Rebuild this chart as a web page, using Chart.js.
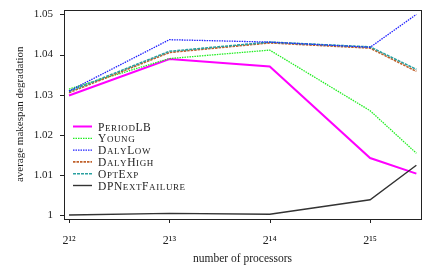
<!DOCTYPE html>
<html>
<head>
<meta charset="utf-8">
<script src="https://cdn.jsdelivr.net/npm/chart.js@4"></script>
<style>
  html, body { margin: 0; padding: 0; background: #fff; }
  #wrap { width: 429px; height: 271px; }
</style>
</head>
<body>
<div id="wrap"><canvas id="myChart" width="429" height="271"></canvas></div>
<script>
// number of processors (last point is not a power of two)
const procs = [4096, 8192, 16384, 32768, 45100];
const xTicks = [4096, 8192, 16384, 32768];
const xTickLabels = ['2¹²', '2¹³', '2¹⁴', '2¹⁵'];
const yTicks = [1, 1.01, 1.02, 1.03, 1.04, 1.05];

const periodLB = [1.0298, 1.0389, 1.0370, 1.0142, 1.0103];
const young = [1.0314, 1.0390, 1.0411, 1.0260, 1.0154];
const dalyLow = [1.0309, 1.0437, 1.0431, 1.0418, 1.0500];
const dalyHigh = [1.0305, 1.0405, 1.0429, 1.0416, 1.0358];
const optExp = [1.0308, 1.0408, 1.0431, 1.0419, 1.0363];
const dpNextFailure = [1.0000, 1.0004, 1.0002, 1.0038, 1.0124];

const serif = '"Liberation Serif", "DejaVu Serif", serif';

function pts(vals) {
  return vals.map((v, i) => ({ x: procs[i], y: v }));
}

const series = [
  { label: 'PeriodLB', data: periodLB, color: '#ff00ff', width: 2, dash: [] },
  { label: 'Young', data: young, color: '#22ee22', width: 1.3, dash: [1.5, 1] },
  { label: 'DalyLow', data: dalyLow, color: '#2020ff', width: 1.3, dash: [1.5, 1] },
  { label: 'DalyHigh', data: dalyHigh, color: '#c0602a', width: 1.6, dash: [2.5, 1] },
  { label: 'OptExp', data: optExp, color: '#2aa0a0', width: 1.6, dash: [3, 1] },
  { label: 'DPNextFailure', data: dpNextFailure, color: '#333333', width: 1.4, dash: [] }
];

// draws a string in small caps: lowercase letters become smaller capitals
function smallCaps(ctx, text, x, y, big, small, gap) {
  let cx = x;
  for (const ch of text) {
    const lower = ch !== ch.toUpperCase();
    ctx.font = (lower ? small : big) + 'px ' + serif;
    const c = ch.toUpperCase();
    ctx.fillText(c, cx, y);
    cx += ctx.measureText(c).width + gap;
  }
}

const boxAndLegend = {
  id: 'boxAndLegend',
  afterDraw(chart) {
    const ctx = chart.ctx;
    const a = chart.chartArea;
    ctx.save();
    ctx.strokeStyle = '#222';
    ctx.lineWidth = 1;
    ctx.setLineDash([]);
    ctx.strokeRect(Math.round(a.left) + 0.5, Math.round(a.top) + 0.5,
      Math.round(a.right - a.left), Math.round(a.bottom - a.top));

    // legend inside the plot
    const lx = 73, ly = 126.5, step = 11.8;
    ctx.textBaseline = 'alphabetic';
    series.forEach((s, i) => {
      const y = ly + i * step;
      ctx.beginPath();
      ctx.strokeStyle = s.color;
      ctx.lineWidth = s.width;
      ctx.setLineDash(s.dash);
      ctx.moveTo(lx, y);
      ctx.lineTo(lx + 19, y);
      ctx.stroke();
      ctx.fillStyle = '#222';
      smallCaps(ctx, s.label, lx + 25, y + 4, 11.5, 9, 0.6);
    });
    ctx.restore();
  }
};

const ctx = document.getElementById('myChart').getContext('2d');
const chart = new Chart(ctx, {
  type: 'line',
  data: {
    datasets: series.map((s, i) => ({
      label: s.label,
      data: pts(s.data),
      borderColor: s.color,
      borderWidth: s.width,
      borderDash: s.dash,
      pointRadius: 0,
      fill: false,
      tension: 0,
      order: [5, 4, 1, 3, 2, 0][i]
    }))
  },
  options: {
    responsive: false,
    animation: false,
    layout: { padding: { top: 5, right: 8, left: 0, bottom: 0 } },
    plugins: {
      legend: { display: false },
      tooltip: { enabled: false }
    },
    scales: {
      x: {
        type: 'logarithmic',
        min: Math.pow(2, 11.95),
        max: Math.pow(2, 15.507),
        afterBuildTicks: scale => { scale.ticks = xTicks.map(v => ({ value: v })); },
        afterFit: scale => { scale.height = 52; },
        grid: { display: false, drawOnChartArea: false },
        border: { display: false },
        ticks: {
          autoSkip: false,
          maxRotation: 0,
          color: '#222',
          font: { family: serif, size: 12 },
          padding: 7,
          callback: (v) => {
            const i = xTicks.indexOf(v);
            return i >= 0 ? xTickLabels[i] : '';
          }
        },
        title: {
          display: true,
          text: 'number of processors',
          color: '#222',
          font: { family: serif, size: 11.5 },
          padding: { top: 0, bottom: 5 }
        }
      },
      y: {
        type: 'linear',
        min: 0.999,
        max: 1.0512,
        afterBuildTicks: scale => { scale.ticks = yTicks.map(v => ({ value: v })); },
        afterFit: scale => { scale.width = 64; },
        grid: { display: false },
        border: { display: false },
        ticks: {
          color: '#222',
          font: { family: serif, size: 11 },
          padding: 3,
          callback: v => String(+v.toFixed(2))
        },
        title: {
          display: true,
          text: 'average makespan degradation',
          color: '#222',
          font: { family: serif, size: 11 },
          padding: { top: 14, bottom: 0 }
        }
      }
    }
  },
  plugins: [boxAndLegend, {
    id: 'outTicks',
    afterDraw(chart) {
      const c = chart.ctx;
      const a = chart.chartArea;
      const xs = chart.scales.x, ys = chart.scales.y;
      c.save();
      c.strokeStyle = '#222';
      c.lineWidth = 1;
      xTicks.forEach(v => {
        const px = Math.round(xs.getPixelForValue(v)) + 0.5;
        c.beginPath();
        c.moveTo(px, a.bottom);
        c.lineTo(px, a.bottom + 4);
        c.stroke();
      });
      yTicks.forEach(v => {
        const py = Math.round(ys.getPixelForValue(v)) + 0.5;
        c.beginPath();
        c.moveTo(a.left, py);
        c.lineTo(a.left - 4, py);
        c.stroke();
      });
      c.restore();
    }
  }]
});
</script>
</body>
</html>
